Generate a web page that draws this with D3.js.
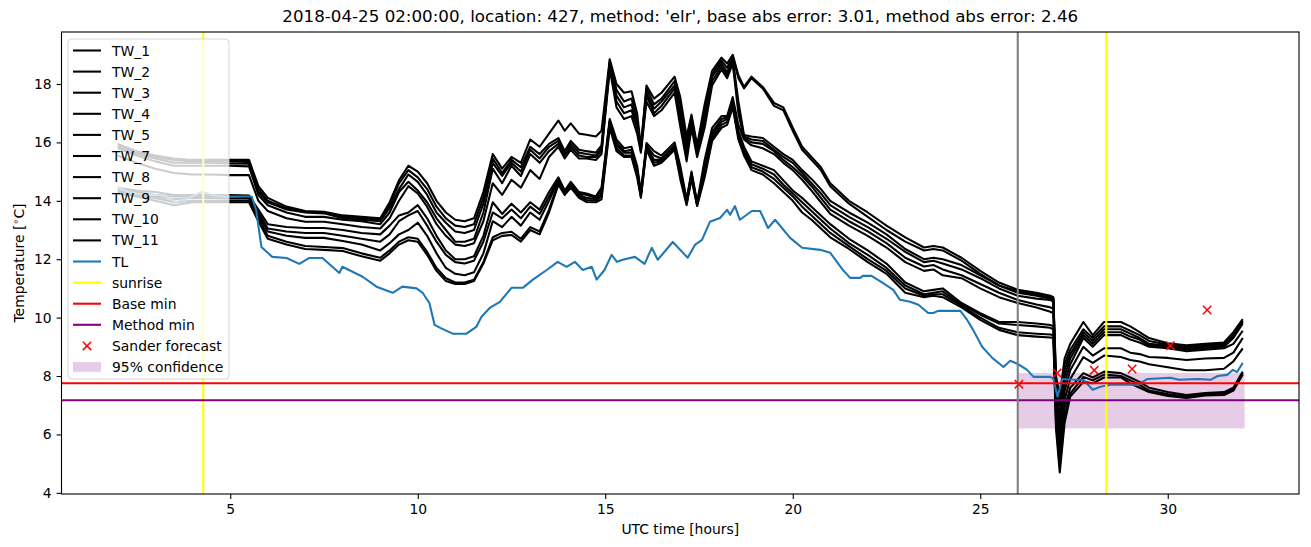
<!DOCTYPE html>
<html><head><meta charset="utf-8">
<script src="https://cdn.jsdelivr.net/npm/d3@7"></script>
<style>body{margin:0;background:#fff}svg{display:block;font-family:"DejaVu Sans",sans-serif}</style>
</head><body><svg id="chart" width="1311" height="547"></svg>
<script>
// ---------- data ----------
const twHours = [2.0,2.5,3.0,3.5,4.0,4.5,5.0,5.5,5.75,6.0,6.5,7.0,7.5,8.0,8.5,9.0,9.25,9.5,9.75,10.0,10.25,10.5,10.75,11.0,11.25,11.5,11.75,12.0,12.25,12.5,12.75,13.0,13.25,13.5,13.75,13.92,14.08,14.3,14.5,14.75,14.9,15.12,15.3,15.5,15.7,15.85,15.95,16.1,16.3,16.5,16.85,17.0,17.17,17.3,17.45,17.65,17.85,18.1,18.25,18.4,18.55,18.7,18.9,19.2,19.5,19.75,20.0,20.25,20.5,20.75,21.0,21.5,22.0,22.5,23.0,23.5,23.75,24.0,24.5,25.0,25.5,26.0,26.5,26.87,26.95,27.02,27.12,27.25,27.4,27.75,28.0,28.3,28.75,29.0,29.25,29.5,30.0,30.5,31.0,31.5,31.75,32.0];

const TW_1 = [15.95,15.7,15.55,15.45,15.4,15.4,15.4,15.4, 14.5,14.1,13.8,13.65,13.62,13.5,13.45,13.4, 13.95,14.7,15.2,15.0,14.6,14.0,13.6,13.35, 13.3,13.4,14.3,15.6,15.1,15.5,15.3,16.1, 15.85,16.3,16.75,16.4,16.65,16.3,16.26,16.2,16.4, 18.85,18.0,17.7,17.75,17.0,15.85,17.95,17.5,17.7,18.25, 17.55,16.2,16.95,15.9,17.3,18.45,18.9,18.7,19.0, 18.3,17.9,18.25,17.9,17.35,17.2,16.5,15.85,15.5,15.15,14.6, 14.0,13.6,13.15,12.75,12.4,12.45,12.4,12.05,11.6,11.2,10.95,10.85,10.75, 10.7,8.0,7.3,8.6,9.1,9.85,9.4,9.85,9.85, 9.7,9.5,9.3,9.12,9.05,9.1,9.15,9.5,9.95];
const TW_2 = [15.9,15.65,15.5,15.4,15.35,15.35,15.35,15.33, 14.4,14.0,13.75,13.62,13.6,13.45,13.4,13.35, 13.85,14.6,15.05,14.8,14.4,13.8,13.4,13.15, 13.1,13.2,14.1,15.45,14.95,15.4,15.15,15.85, 15.6,15.95,16.15,15.7,16.05,15.75,15.7,15.65,15.9, 18.8,17.8,17.4,17.5,16.8,15.8,17.85,17.3,17.5,18.1, 17.3,16.0,16.85,15.8,17.1,18.35,18.8,18.55,18.95, 18.2,17.85,18.2,17.85,17.25,17.1,16.4,15.75,15.4,15.05,14.5, 13.9,13.45,13.0,12.6,12.3,12.35,12.3,11.95,11.5,11.1,10.9,10.8,10.7, 10.65,7.8,7.0,8.4,8.9,9.6,9.3,9.7,9.7, 9.55,9.4,9.2,9.08,9.0,9.05,9.1,9.45,9.9];
const TW_3 = [15.85,15.6,15.45,15.3,15.3,15.3,15.28,15.27, 14.3,13.95,13.7,13.6,13.57,13.4,13.35,13.3, 13.75,14.4,14.9,14.65,14.2,13.6,13.25,12.95, 12.9,13.0,13.9,15.3,14.85,15.3,15.0,15.75, 15.45,15.85,16.05,15.6,15.95,15.65,15.6,15.55,15.8, 18.7,17.6,17.2,17.3,16.6,15.75,17.7,17.15,17.4,17.95, 17.0,15.8,16.75,15.7,16.9,18.25,18.7,18.4,18.85, 17.4,16.25,16.2,16.15,15.85,15.6,15.4,15.05,14.75,14.4,14.0, 13.6,13.25,12.85,12.35,12.0,12.05,12.0,11.8,11.45,11.1,10.85,10.75,10.65, 10.6,7.6,6.6,8.2,8.75,9.5,9.2,9.6,9.6, 9.45,9.3,9.1,9.04,8.95,9.0,9.05,9.35,9.85];
const TW_4 = [15.8,15.55,15.35,15.2,15.2,15.2,15.2,15.18, 14.2,13.85,13.6,13.45,13.45,13.35,13.3,13.2, 13.6,14.3,14.65,14.35,13.95,13.4,13.0,12.6, 12.6,12.7,13.6,15.1,14.6,15.2,14.85,15.6, 15.3,15.7,15.95,15.55,15.85,15.55,15.5,15.5,15.7, 18.6,17.4,17.0,17.1,16.5,15.7,17.6,17.0,17.25,17.85, 16.8,15.55,16.65,15.6,16.7,18.1,18.6,18.3,18.8, 17.2,16.2,16.1,16.05,15.75,15.5,15.3,14.95,14.6,14.25,13.85, 13.45,13.1,12.7,12.25,11.9,11.95,11.85,11.65,11.35,11.0,10.75,10.65,10.6, 10.55,7.4,6.3,8.0,8.6,9.4,9.1,9.5,9.5, 9.35,9.25,9.05,9.0,8.9,8.95,9.0,9.3,9.8];
const TW_5 = [15.55,15.3,15.1,14.95,14.9,14.9,14.88,14.88, 14.0,13.65,13.4,13.28,13.28,13.2,13.1,13.05, 13.4,14.0,14.5,14.25,13.8,13.2,12.8,12.5, 12.45,12.55,13.3,14.6,14.2,14.72,14.45,15.05, 14.75,15.5,15.85,15.45,15.75,15.45,15.45,15.4,15.6, 18.5,17.2,16.8,16.9,16.3,15.65,17.4,16.9,17.1,17.7, 16.55,15.35,16.5,15.5,16.5,17.95,18.5,18.2,18.7, 17.0,16.15,16.0,15.95,15.7,15.4,15.15,14.85,14.5,14.1,13.7, 13.3,12.95,12.55,12.05,11.75,11.8,11.65,11.45,11.15,10.85,10.6,10.45,10.35, 10.3,7.2,6.0,7.8,8.4,9.3,9.0,9.4,9.4, 9.25,9.15,9.0,8.95,8.85,8.9,8.95,9.1,9.55];
const TW_7 = [14.45,14.35,14.3,14.2,14.2,14.2,14.2,14.18, 13.7,13.2,13.1,13.07,13.07,13.0,12.9,12.85, 13.15,13.5,13.6,13.85,13.4,12.8,12.3,12.0, 12.0,12.1,12.8,13.95,13.55,13.9,13.6,13.95, 13.7,14.3,14.8,14.35,14.65,14.3,14.25,14.15,14.45, 16.8,16.1,15.8,15.85,15.2,14.3,15.98,15.7,15.55,16.0, 15.2,14.05,15.0,13.95,15.4,16.5,16.9,16.9,17.55, 16.6,16.1,15.9,15.8,15.6,15.3,15.05,14.72,14.35,13.95,13.55, 13.15,12.8,12.4,11.9,11.6,11.65,11.45,11.35,11.0,10.7,10.5,10.35,10.2, 10.15,7.0,5.7,7.5,8.2,9.0,8.7,8.95,8.95, 8.8,8.75,8.65,8.62,8.55,8.6,8.62,8.8,9.3];
const TW_8 = [14.4,14.3,14.2,14.15,14.15,14.15,14.15,14.13, 13.6,13.05,12.95,12.9,12.9,12.8,12.7,12.6, 12.85,13.3,13.5,13.65,13.15,12.6,12.15,11.9, 11.85,11.95,12.6,13.6,13.4,13.7,13.4,13.8, 13.55,14.15,14.75,14.3,14.6,14.25,14.2,14.1,14.35, 16.75,16.0,15.7,15.75,15.1,14.25,15.9,15.55,15.45,15.9, 15.05,14.0,14.95,13.9,15.2,16.35,16.8,16.85,17.45, 16.4,15.85,15.35,15.2,15.05,14.7,14.35,14.1,13.8,13.5,13.2, 12.7,12.3,11.85,11.2,10.9,10.95,11.0,10.5,10.15,9.85,9.85,9.8,9.75, 9.7,6.8,5.4,7.2,7.9,8.65,8.45,8.7,8.65, 8.55,8.5,8.4,8.3,8.2,8.2,8.25,8.5,8.95];
const TW_9 = [14.35,14.25,14.15,14.05,14.1,14.1,14.08,14.08, 13.5,12.95,12.8,12.73,12.73,12.62,12.5,12.3, 12.55,12.85,13.0,13.25,12.8,12.2,11.7,11.5, 11.45,11.55,12.2,13.3,13.1,13.45,13.15,13.6, 13.35,14.0,14.7,14.28,14.55,14.2,14.1,14.05,14.25, 16.7,15.9,15.65,15.65,15.0,14.2,15.85,15.4,15.4,15.85, 14.95,13.95,14.9,13.88,15.0,16.25,16.7,16.8,17.35, 16.3,15.75,15.25,15.1,14.9,14.55,14.25,13.95,13.65,13.35,13.05, 12.55,12.15,11.7,11.1,10.8,10.85,10.9,10.45,10.1,9.8,9.75,9.7,9.65, 9.6,6.6,5.1,6.9,7.6,8.1,7.95,8.15,8.1, 7.95,7.8,7.6,7.45,7.35,7.42,7.45,7.6,8.15];
const TW_10 = [14.3,14.2,14.1,13.95,14.0,14.0,14.0,14.0, 13.4,12.8,12.6,12.45,12.42,12.38,12.2,12.05, 12.3,12.6,12.75,12.7,12.25,11.7,11.35,11.2, 11.2,11.3,11.9,12.75,12.9,12.94,12.7,13.1, 12.95,13.7,14.62,14.25,14.5,14.15,14.03,14.0,14.15, 16.6,15.8,15.55,15.55,14.9,14.15,15.8,15.3,15.35,15.8, 14.85,13.9,14.8,13.85,14.9,16.15,16.6,16.7,17.25, 16.2,15.65,15.15,15.0,14.75,14.45,14.15,13.8,13.5,13.2,12.9, 12.45,12.0,11.6,11.0,10.75,10.8,10.8,10.4,10.0,9.65,9.5,9.45,9.42, 9.4,6.4,4.9,6.6,7.4,7.97,7.85,8.05,8.0, 7.85,7.7,7.5,7.38,7.3,7.38,7.4,7.55,8.1];
const TW_11 = [14.25,14.15,14.0,13.85,13.95,13.95,13.95,13.95, 13.3,12.7,12.5,12.35,12.32,12.28,12.1,11.95, 12.2,12.5,12.65,12.6,12.15,11.6,11.25,11.15, 11.15,11.25,11.85,12.65,12.8,12.83,12.6,13.0, 12.85,13.6,14.55,14.2,14.45,14.1,13.96,13.95,14.05, 16.5,15.7,15.5,15.5,14.8,14.1,15.75,15.2,15.3,15.75, 14.75,13.85,14.75,13.82,14.8,16.05,16.5,16.6,17.2, 16.1,15.55,15.05,14.9,14.6,14.3,14.0,13.6,13.35,13.05,12.75, 12.35,11.9,11.5,10.85,10.7,10.75,10.7,10.35,9.92,9.58,9.4,9.35,9.32, 9.3,6.2,4.7,6.4,7.3,7.8,7.75,7.95,7.95, 7.75,7.6,7.45,7.32,7.25,7.33,7.35,7.5,8.05];
const twNames = ["TW_1","TW_2","TW_3","TW_4","TW_5","TW_7","TW_8","TW_9","TW_10","TW_11"];
const twSeries = [TW_1,TW_2,TW_3,TW_4,TW_5,TW_7,TW_8,TW_9,TW_10,TW_11];

const tlHours = [2.0,2.3,2.7,3.2,3.56,3.9,4.25,4.5,4.8,5.3,5.57,5.69,5.83,6.12,6.5,6.84,7.1,7.46,7.91,7.99,8.53,8.9,9.33,9.59,9.97,10.13,10.31,10.45,10.6,10.93,11.3,11.56,11.7,11.92,12.19,12.5,12.8,13.07,13.44,13.73,13.97,14.19,14.4,14.64,14.77,14.98,15.17,15.31,15.47,15.79,16.05,16.24,16.4,16.8,17.2,17.39,17.58,17.79,18.06,18.25,18.33,18.46,18.59,18.91,19.13,19.34,19.53,19.93,20.25,20.73,21.0,21.34,21.53,21.8,21.87,22.1,22.4,22.68,22.86,23.13,23.35,23.61,23.75,23.88,24.47,24.65,24.81,25.05,25.32,25.62,25.8,25.99,26.25,26.42,26.87,26.95,27.06,27.19,27.48,27.75,28.0,28.2,28.47,29.2,29.46,30.07,30.3,30.8,31.14,31.33,31.59,31.73,31.85,32.0];
const tlValues = [14.45,14.3,14.2,14.2,13.95,14.1,14.3,14.2,14.15,14.15,14.15,13.69,12.42,12.08,12.04,11.84,12.04,12.04,11.53,11.74,11.4,11.06,10.85,11.06,11.0,10.85,10.5,9.75,9.65,9.45,9.45,9.68,10.03,10.33,10.54,11.02,11.02,11.3,11.63,11.91,11.74,11.91,11.63,11.74,11.3,11.63,12.15,11.91,11.98,12.08,11.84,12.39,11.98,12.59,12.05,12.49,12.66,13.28,13.41,13.69,13.52,13.82,13.35,13.65,13.65,13.07,13.35,12.73,12.39,12.32,12.22,11.63,11.36,11.36,11.43,11.43,11.19,10.95,10.61,10.54,10.44,10.16,10.16,10.23,10.23,9.92,9.58,9.0,8.62,8.31,8.52,8.42,8.21,7.97,7.97,7.9,7.29,7.9,7.87,7.87,7.53,7.63,7.7,7.7,7.9,7.94,7.87,7.9,7.87,8.0,8.04,8.21,8.14,8.45];

const sunriseHours = [4.28, 28.36];
const forecastStartHour = [26.0];
const baseMin = [7.75];
const methodMin = [7.17];
const sanderHours = [26.03, 27.05, 28.04, 29.05, 30.07, 31.05];
const sanderValues = [7.72, 8.1, 8.2, 8.24, 9.04, 10.26];
const confHours = [26.0, 32.05];
const confLow = [6.2, 6.2];
const confHigh = [8.1, 8.1];
const xTickValues = [5, 10, 15, 20, 25, 30];
const yTickValues = [4, 6, 8, 10, 12, 14, 16, 18];
const titleText = "2018-04-25 02:00:00, location: 427, method: 'elr', base abs error: 3.01, method abs error: 2.46";

// ---------- chart ----------
const svg = d3.select("#chart");
const L = 61.5, R = 1299, T = 32, B = 494;
const x = d3.scaleLinear().domain([0.5, 33.5]).range([L, R]);
const y = d3.scaleLinear().domain([3.96, 19.78]).range([B, T]);

const defs = svg.append("defs");
defs.append("clipPath").attr("id", "clip").append("rect")
  .attr("x", L).attr("y", T).attr("width", R - L).attr("height", B - T);

const plot = svg.append("g").attr("clip-path", "url(#clip)");

// confidence band
const area = d3.area().x(d => x(d.h)).y0(d => y(d.lo)).y1(d => y(d.hi));
plot.append("path")
  .datum(confHours.map((h, i) => ({h, lo: confLow[i], hi: confHigh[i]})))
  .attr("d", area).attr("fill", "purple").attr("fill-opacity", 0.2);

const line = d3.line().x(d => x(d[0])).y(d => y(d[1]));
twSeries.forEach(vals => {
  plot.append("path").datum(twHours.map((h, i) => [h, vals[i]]))
    .attr("d", line).attr("fill", "none").attr("stroke", "#000")
    .attr("stroke-width", 2.08).attr("stroke-linejoin", "round");
});
plot.append("path").datum(tlHours.map((h, i) => [h, tlValues[i]]))
  .attr("d", line).attr("fill", "none").attr("stroke", "#1f77b4")
  .attr("stroke-width", 2.08).attr("stroke-linejoin", "round");

sunriseHours.forEach(h => {
  plot.append("line").attr("x1", x(h)).attr("x2", x(h)).attr("y1", T).attr("y2", B)
    .attr("stroke", "yellow").attr("stroke-width", 2.08);
});
plot.append("line").attr("x1", L).attr("x2", R).attr("y1", y(baseMin[0])).attr("y2", y(baseMin[0]))
  .attr("stroke", "red").attr("stroke-width", 2.08);
plot.append("line").attr("x1", L).attr("x2", R).attr("y1", y(methodMin[0])).attr("y2", y(methodMin[0]))
  .attr("stroke", "purple").attr("stroke-width", 2.08);
plot.append("line").attr("x1", x(forecastStartHour[0])).attr("x2", x(forecastStartHour[0])).attr("y1", T).attr("y2", B)
  .attr("stroke", "gray").attr("stroke-width", 2.08);

const xMark = (g, cx, cy, s) => {
  g.append("path").attr("d", `M${cx - s},${cy - s}L${cx + s},${cy + s}M${cx - s},${cy + s}L${cx + s},${cy - s}`)
    .attr("stroke", "red").attr("stroke-width", 1.5).attr("fill", "none");
};
sanderHours.forEach((h, i) => xMark(plot, x(h), y(sanderValues[i]), 4.2));

// axes
const xAxis = svg.append("g").attr("transform", `translate(0,${B})`)
  .call(d3.axisBottom(x).tickValues(xTickValues).tickSize(4.9).tickPadding(4.9).tickFormat(d3.format("d")));
const yAxis = svg.append("g").attr("transform", `translate(${L},0)`)
  .call(d3.axisLeft(y).tickValues(yTickValues).tickSize(4.9).tickPadding(4.9).tickFormat(d3.format("d")));
[xAxis, yAxis].forEach(a => {
  a.select(".domain").remove();
  a.selectAll(".tick line").attr("stroke", "#000").attr("stroke-width", 1.1);
  a.selectAll(".tick text").attr("font-family", "DejaVu Sans").attr("font-size", 13.9).attr("fill", "#000");
});

svg.append("rect").attr("x", L).attr("y", T).attr("width", R - L).attr("height", B - T)
  .attr("fill", "none").attr("stroke", "#000").attr("stroke-width", 1.1);

// labels
svg.append("text").attr("x", (L + R) / 2).attr("y", 534).attr("text-anchor", "middle")
  .attr("font-size", 13.9).text("UTC time [hours]");
const yl = svg.append("text").attr("transform", `translate(24,${(T + B) / 2}) rotate(-90)`)
  .attr("text-anchor", "middle").attr("font-size", 13.9);
yl.append("tspan").text("Temperature [");
yl.append("tspan").attr("font-size", 9.7).attr("dy", -5).text("\u2218");
yl.append("tspan").attr("dy", 5).text("C]");
svg.append("text").attr("x", (L + R) / 2).attr("y", 22).attr("text-anchor", "middle")
  .attr("font-size", 16.7).text(titleText);

// legend
const leg = svg.append("g");
leg.append("rect").attr("x", 68).attr("y", 39).attr("width", 161).attr("height", 340)
  .attr("rx", 3.5).attr("fill", "#fff").attr("fill-opacity", 0.8)
  .attr("stroke", "#ccc").attr("stroke-opacity", 0.8).attr("stroke-width", 1);
const items = twNames.map(n => ({label: n, type: "line", color: "#000"}))
  .concat([
    {label: "TL", type: "line", color: "#1f77b4"},
    {label: "sunrise", type: "line", color: "yellow"},
    {label: "Base min", type: "line", color: "red"},
    {label: "Method min", type: "line", color: "purple"},
    {label: "Sander forecast", type: "marker", color: "red"},
    {label: "95% confidence", type: "patch", color: "purple"}
  ]);
items.forEach((it, i) => {
  const cy = 50.5 + i * 21.1;
  if (it.type === "line") {
    leg.append("line").attr("x1", 73).attr("x2", 101).attr("y1", cy).attr("y2", cy)
      .attr("stroke", it.color).attr("stroke-width", 2.08);
  } else if (it.type === "marker") {
    xMark(leg, 87, cy, 4.2);
  } else {
    leg.append("rect").attr("x", 73).attr("y", cy - 4.9).attr("width", 28).attr("height", 9.7)
      .attr("fill", it.color).attr("fill-opacity", 0.2);
  }
  leg.append("text").attr("x", 112).attr("y", cy + 5).attr("font-size", 13.9).text(it.label);
});
</script></body></html>
